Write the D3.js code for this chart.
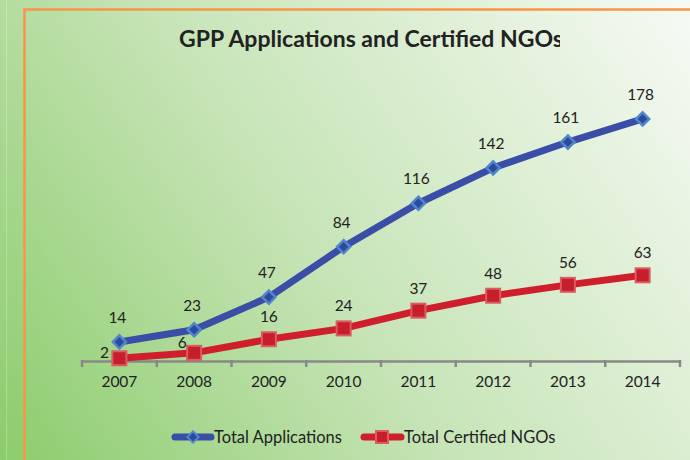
<!DOCTYPE html>
<html><head><meta charset="utf-8">
<script src="https://cdn.jsdelivr.net/npm/d3@7"></script>
<style>html,body{margin:0;padding:0;overflow:hidden;}svg{display:block;}</style>
</head><body><div id="chart"></div>
<script>
const years = ["2007","2008","2009","2010","2011","2012","2013","2014"];
const totalApplications = [14,23,47,84,116,142,161,178];
const totalCertified = [2,6,16,24,37,48,56,63];
const seriesNames = ["Total Applications","Total Certified NGOs"];
const titleText = "GPP Applications and Certified NGOs";

const W=690,H=460;
const svg=d3.select("#chart").append("svg").attr("width",W).attr("height",H);
const defs=svg.append("defs");
const g=defs.append("linearGradient").attr("id","bg").attr("gradientUnits","userSpaceOnUse")
  .attr("x1",0).attr("y1",H).attr("x2",W).attr("y2",0);
g.append("stop").attr("offset","0").attr("stop-color","#8ccc6c");
g.append("stop").attr("offset","0.45").attr("stop-color","#c6e4b6");
g.append("stop").attr("offset","1").attr("stop-color","#f6faf4");
svg.append("rect").attr("width",W).attr("height",H).attr("fill","url(#bg)");
svg.append("line").attr("x1",6.5).attr("x2",6.5).attr("y1",0).attr("y2",H).attr("stroke","#ffffff").attr("stroke-opacity",0.25).attr("stroke-width",1);
svg.append("path").attr("d",`M24.5,${H} L24.5,9.5 L${W},9.5`).attr("fill","none").attr("stroke","#f79646").attr("stroke-width",2.5);

const lf="Lato, 'Open Sans', sans-serif";
defs.append("clipPath").attr("id","tclip").append("rect").attr("x",0).attr("y",0).attr("width",560).attr("height",80);
svg.append("text").attr("clip-path","url(#tclip)").attr("x",371).attr("y",47).attr("text-anchor","middle")
  .attr("font-family",lf).attr("font-weight","bold").attr("font-size",23)
  .attr("fill","#222").text(titleText);

const x=d3.scaleBand().domain(years).range([82,680]);
const y=d3.scaleLinear().domain([0,200]).range([361,89]);
const cx=d=>x(d)+x.bandwidth()/2;

const ax=svg.append("g").attr("transform","translate(0,361)")
  .call(d3.axisBottom(x).tickSize(0).tickPadding(15));
ax.select(".domain").attr("stroke","#888").attr("stroke-width",2.5);
ax.selectAll("text").attr("font-family",lf).attr("font-size",15.5).attr("fill","#222");
const bounds=years.map(d=>x(d)).concat([x.range()[1]]);
svg.append("g").selectAll("line").data(bounds).join("line")
  .attr("x1",d=>d).attr("x2",d=>d).attr("y1",360).attr("y2",367)
  .attr("stroke","#888").attr("stroke-width",2.5);

const line=d3.line().x(d=>cx(d.year)).y(d=>y(d.v));
const dataA=years.map((yr,i)=>({year:yr,v:totalApplications[i]}));
const dataC=years.map((yr,i)=>({year:yr,v:totalCertified[i]}));

svg.append("path").datum(dataA).attr("d",line).attr("fill","none").attr("stroke","#3a4ea8").attr("stroke-width",7).attr("stroke-linejoin","round");
svg.append("path").datum(dataC).attr("d",line).attr("fill","none").attr("stroke","#d01f2c").attr("stroke-width",7).attr("stroke-linejoin","round");

const diamond=d3.symbol().type(d3.symbolDiamond2).size(110);
svg.append("g").selectAll("path").data(dataA).join("path")
  .attr("d",diamond).attr("transform",d=>`translate(${cx(d.year)},${y(d.v)})`)
  .attr("fill","#2f4a9c").attr("stroke","#4f86cc").attr("stroke-width",2.5);
svg.append("g").selectAll("rect").data(dataC).join("rect")
  .attr("x",d=>cx(d.year)-7).attr("y",d=>y(d.v)-7).attr("width",14).attr("height",14)
  .attr("fill","#c81e2b").attr("stroke","#d85c62").attr("stroke-width",2);

svg.append("g").selectAll("text").data(dataA).join("text")
  .attr("x",d=>cx(d.year)-2).attr("y",d=>y(d.v)-19).attr("text-anchor","middle")
  .attr("font-family",lf).attr("font-size",15.5).attr("fill","#222").text(d=>d.v);
svg.append("g").selectAll("text").data(dataC).join("text")
  .attr("x",(d,i)=>i===0?cx(d.year)-15:i===1?cx(d.year)-12:cx(d.year))
  .attr("y",(d,i)=>i===0?y(d.v)+0:i===1?y(d.v)-5:y(d.v)-17)
  .attr("text-anchor","middle")
  .attr("font-family",lf).attr("font-size",15.5).attr("fill","#222").text(d=>d.v);

const leg=svg.append("g").attr("transform","translate(0,437)");
leg.append("line").attr("x1",175).attr("x2",211).attr("stroke","#3a4ea8").attr("stroke-width",7).attr("stroke-linecap","round");
leg.append("path").attr("d",d3.symbol().type(d3.symbolDiamond2).size(80)).attr("transform","translate(193,0)")
  .attr("fill","#2f4a9c").attr("stroke","#4f86cc").attr("stroke-width",2);
leg.append("text").attr("x",214).attr("y",5.5).attr("font-family",lf).attr("font-size",16.5).attr("fill","#222").text(seriesNames[0]);
leg.append("line").attr("x1",364).attr("x2",401).attr("stroke","#d01f2c").attr("stroke-width",7).attr("stroke-linecap","round");
leg.append("rect").attr("x",376).attr("y",-6).attr("width",12).attr("height",12).attr("fill","#c81e2b").attr("stroke","#d85c62").attr("stroke-width",2);
leg.append("text").attr("x",404).attr("y",5.5).attr("font-family",lf).attr("font-size",16.5).attr("fill","#222").text(seriesNames[1]);
</script></body></html>
